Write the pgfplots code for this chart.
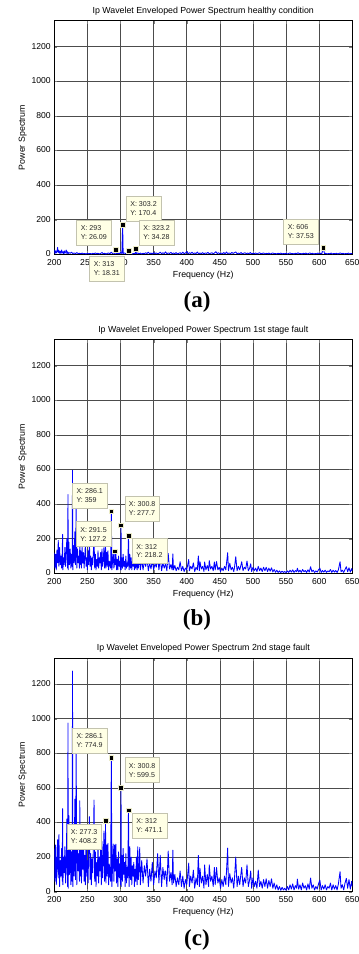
\documentclass[border=0pt]{standalone}
\usepackage{pgfplots}
\pgfplotsset{compat=1.18}
\usepackage{fontspec}
\setmainfont{Liberation Sans}
\newfontfamily\capfont{Liberation Serif}
\definecolor{tipfill}{RGB}{255,255,229}
\definecolor{tipdraw}{RGB}{195,195,175}
\definecolor{mkedge}{RGB}{235,235,200}
\pgfplotsset{every axis title shift=0pt,
  panel/.style={
  scale only axis, width=298pt, height=233.6pt, anchor=south west,
  xmin=200, xmax=650, ymin=0, ymax=1350,
  xtick={200,250,...,650}, ytick={0,200,...,1200},
  grid=major, major grid style={black!70, line width=0.6pt},
  tick align=inside, major tick length=3pt,
  axis line style={black, line width=0.6pt},
  tick label style={font=\fontsize{8.6}{10}\selectfont},
  xticklabel style={yshift=-1.2pt},
  yticklabel style={yshift=0.6pt},
  /pgf/number format/assume math mode=true,
  /pgf/number format/1000 sep={},
  xlabel={Frequency (Hz)}, ylabel={Power Spectrum},
  label style={font=\fontsize{8.8}{10}\selectfont},
  xlabel style={at={(axis description cs:0.5,-0.0885)},anchor=center},
  ylabel style={at={(axis description cs:-0.106,0.5)},anchor=center},
  title style={at={(axis description cs:0.5,1.0415)},anchor=center,font=\fontsize{8.8}{10}\selectfont},
  },
  spec/.style={blue, line width=0.85pt, mark=none, line join=round},
  tipmk/.style={only marks, mark=square*, mark size=2.4pt, mark options={fill=black, draw=mkedge, line width=0.5pt}}
}
\tikzset{tip/.style={draw=tipdraw, fill=tipfill, line width=0.5pt, font=\fontsize{7.1}{8.7}\selectfont, align=left, minimum width=34.7pt, minimum height=25pt, inner sep=1pt, text=black!85}}
\begin{document}
\begin{tikzpicture}
\useasboundingbox (0,0) rectangle (359pt,954pt);
% ---------------- (a) ----------------
\begin{axis}[panel, at={(54.3pt,699.7pt)}, title={Ip Wavelet Enveloped Power Spectrum healthy condition}]
\addplot[spec] coordinates {
(200,25)(201,5)(202,20)(203,8)(204,15)(205,40)(206,10)(207,22)(208,6)(209,18)(210,5)(211,25)(212,8)(213,14)(214,4)(215,20)(216,6)(217,12)(218,25)(219,5)(220,15)(221,4)(222,10)(224,6)(226,12)(228,4)(230,8)(232,3)(234,10)(236,4)(238,6)(240,3)(242,7)(244,3)(246,5)(248,2)(250,6)(252,3)(254,5)(256,2)(258,6)(260,3)(262,8)(264,3)(266,6)(268,2)(270,5)(272,10)(274,3)(276,6)(278,2)(280,5)(282,8)(284,3)(286,12)(288,4)(290,8)(292,3)(293,26.09)(294,4)(296,6)(298,3)(300,10)(302,5)(303.2,170.4)(304,5)(306,8)(308,3)(310,6)(312,2)(313,18.31)(314,3)(316,6)(318,2)(320,5)(322,4)(323.2,34.28)(324,3)(326,8)(328,3)(330,7)(332,2)
(334,6)(336,3)(338,9)(340,4)(342,12)(344,3)(346,7)(348,2)(350,10)(352,4)(354,8)(356,3)(358,6)(360,12)(362,3)(364,9)(366,4)(368,14)(370,3)(372,8)(374,5)(376,11)(378,3)(380,7)(382,4)(384,10)(386,2)(388,6)(390,9)(392,3)(394,12)(396,4)(398,7)(400,16)(402,3)(404,9)(406,5)(408,12)(410,3)(412,8)(414,4)(416,13)(418,3)(420,7)(422,4)(424,10)(426,2)(428,8)(430,5)(432,11)(434,3)(436,6)(438,9)(440,3)(442,8)(444,15)(446,4)(448,9)(450,3)(452,7)(454,4)(456,10)(458,3)(460,13)(462,4)(464,8)(466,3)(468,11)(470,5)(472,9)(474,14)(476,3)(478,7)(480,4)(482,10)(484,3)(486,6)(488,9)(490,3)(492,7)(494,4)(496,10)(498,3)(500,6)(502,4)(504,8)(506,2)(508,6)(510,9)(512,3)(514,5)(516,8)(518,2)(520,6)(522,3)(524,7)(526,2)(528,5)(530,8)(532,3)(534,5)(536,2)(538,6)(540,3)(542,7)(544,2)(546,5)(548,3)(550,6)(552,2)(554,5)(556,8)(558,3)(560,5)(562,2)(564,6)(566,3)(568,9)(570,3)(572,5)(574,2)(576,6)(578,3)(580,7)(582,2)(584,5)(586,8)(588,3)(590,6)(592,2)(594,5)(596,3)(598,7)(600,4)(602,6)(604,3)(606,37.53)(608,4)(610,6)(612,2)(614,5)(616,3)(618,7)(620,2)(622,5)(624,3)(626,6)(628,2)(630,5)(632,8)(634,3)(636,6)(638,2)(640,5)(642,3)(644,7)(646,2)(648,5)(650,3)};
\addplot[tipmk] coordinates {(293,26.09)(303.2,170.4)(313,18.31)(323.2,34.28)(606,37.53)};
\coordinate (A1) at (axis cs:334.7,266);
\coordinate (A2) at (axis cs:259.7,124);
\coordinate (A3) at (axis cs:354.6,126);
\coordinate (A4) at (axis cs:279.3,-84);
\coordinate (A5) at (axis cs:572.3,133);
\end{axis}
\node[tip] at (A1) {X: 303.2\\Y: 170.4};
\node[tip] at (A2) {X: 293\\Y: 26.09};
\node[tip] at (A3) {X: 323.2\\Y: 34.28};
\node[tip] at (A4) {X: 313\\Y: 18.31};
\node[tip] at (A5) {X: 606\\Y: 37.53};
\node[font=\capfont\bfseries\fontsize{23}{26}\selectfont, inner sep=0pt] at (197pt,652.3pt) {(a)};
% ---------------- (b) ----------------
\begin{axis}[panel, at={(54.3pt,380.7pt)}, title={Ip Wavelet Enveloped Power Spectrum 1st stage fault}]
\addplot[spec] coordinates {
(200,120)(201,30)(202,110)(203,20)(204,135)(205,60)(206,190)(207,40)(208,150)(209,50)(210,100)(211,30)(212,120)(212.5,225)(213,20)(214,90)(215,50)(216,150)(217,40)(218,130)(219,200)(220,30)(220.7,455)(221,20)(222,180)(223,50)(224,140)(225,30)(226,110)(227,40)(227.5,595)(228,20)(229,160)(230,60)(231,240)(232,50)(233,375)(234,30)(235,140)(236,60)(237,100)(238,30)(238.5,195)(239,50)(240,130)(241,30)(242,150)(243,60)(244,120)(245,30)(246,100)(247,170)(248,40)(249,90)(250,20)(251,130)(252,50)(253,180)(254,40)(255,100)(256,20)(257,90)(258,50)(259,120)(260,200)(261,30)(262,110)(263,20)(264,80)(265,40)(266,130)(267,30)(268,90)(269,60)(270,120)(271,20)(272,140)(273,40)(274,80)(275,150)(276,30)(277,90)(277.3,170)(278,30)(279,120)(280,40)(281,130)(282,20)(283,70)(284,50)(285,30)(286.1,359)(287,20)(288,70)(289,120)(290,30)(291,60)(291.5,127.2)(292,50)(293,120)(294,20)(295,80)(296,20)(297,100)(298,40)(299,70)(300,20)(300.8,277.7)(301,20)(302,90)(303,30)(304,110)(305,40)(306,70)(307,20)(308,100)(309,30)(310,60)(311,40)(312,218.2)(313,20)(314,110)(315,30)(316,90)(317,20)(318,70)(319,40)(320,80)(321,20)(322,60)(323,30)(324,90)(325,20)(326,110)(327,30)(328,60)(329,110)(330,20)
(332,80)(334,20)(336,70)(338,40)(340,85)(342,15)(344,60)(346,25)(348,75)(350,20)(352,55)(354,35)(356,95)(358,20)(360,90)(362,15)(364,60)(366,30)(368,55)(370,15)(372,115)(374,25)(376,50)(378,20)(379,112)(380,20)(382,45)(384,15)(386,35)(388,20)(390,67)(392,15)(394,40)(396,10)(398,30)(400,20)(403,80)(404,15)(406,40)(408,25)(410,60)(412,10)(414,35)(416,20)(417.5,100)(419,15)(420,67)(422,25)(424,40)(426,10)(427,65)(429,20)(431,45)(433,15)(434,73)(436,25)(438,40)(440,15)(441.7,65)(443,20)(445,68)(447,20)(449,35)(451,10)(453,30)(455,15)(457,40)(459,20)(461.8,119)(463,15)(465,58)(467,20)(469,35)(471,10)(472,30)(474,96)(476,15)(478,40)(480,20)(482,50)(483,67)(485,15)(487,35)(489,25)(491,71)(493,15)(495,30)(496.6,55)(498,10)(500,35)(502,15)(504,30)(506,10)(508,40)(510,15)(512,30)(514,10)(516,35)(518,15)(520,35)(522,10)(524,30)(526,12)(528,32)(530,8)(532,22)(534,6)(536,18)(538,5)(540,14)(542,4)(544,12)(546,5)(548,10)(550,4)(552,14)(554,5)(556,18)(558,7)(560,20)(562,5)(564,16)(566,9)(567,29)(569,7)(571,18)(573,5)(575,22)(577,9)(579,16)(581,5)(583,20)(585,7)(587,38)(589,9)(591,18)(593,5)(595,14)(597,7)(599,20)(601,30)(603,5)(605,16)(607,7)(609,18)(611,5)(613,14)(615,9)(617,22)(619,5)(621,18)(623,7)(625,16)(627,5)(629,20)(631.5,67)(633,9)(635,18)(637,5)(639,22)(641,38)(643,9)(645,32)(647,7)(649,27)(650,14)};
\addplot[tipmk] coordinates {(286.1,359)(291.5,127.2)(300.8,277.7)(312,218.2)};
\coordinate (B1) at (axis cs:253.5,449);
\coordinate (B2) at (axis cs:332.7,373);
\coordinate (B3) at (axis cs:259.2,226);
\coordinate (B4) at (axis cs:343.8,128);
\end{axis}
\node[tip] at (B1) {X: 286.1\\Y: 359};
\node[tip] at (B2) {X: 300.8\\Y: 277.7};
\node[tip] at (B3) {X: 291.5\\Y: 127.2};
\node[tip] at (B4) {X: 312\\Y: 218.2};
\node[font=\capfont\bfseries\fontsize{23}{26}\selectfont, inner sep=0pt] at (197pt,333.9pt) {(b)};
% ---------------- (c) ----------------
\begin{axis}[panel, at={(54.3pt,62.3pt)}, title={Ip Wavelet Enveloped Power Spectrum 2nd stage fault}]
\addplot[spec] coordinates {
(200,250)(201,60)(202,270)(203,40)(204,150)(205,300)(206,80)(207,330)(208,30)(209,180)(210,90)(211,250)(212,60)(212.5,480)(213,40)(214,200)(215,110)(216,260)(217,50)(218,160)(219,420)(220,30)(220.7,975)(221,20)(222,440)(223,100)(224,290)(225,40)(226,230)(227,60)(227.5,1275)(228,30)(229,350)(230,90)(231,535)(232,70)(233,810)(234,40)(235,300)(236,120)(237,220)(238,60)(238.5,525)(239,90)(240,280)(241,50)(242,240)(243,130)(244,300)(245,60)(246,210)(247,40)(248,350)(249,90)(250,180)(251,50)(252,270)(253,434)(254,70)(255,220)(256,40)(257,190)(258,110)(259,260)(260,530)(261,60)(262,230)(263,30)(264,170)(265,90)(266,280)(267,50)(268,200)(269,120)(270,250)(271,40)(272,290)(273,80)(274,180)(275,350)(276,60)(277,200)(277.3,408.2)(278,50)(279,270)(280,90)(281,280)(282,40)(283,160)(284,100)(285,60)(286.1,774.9)(287,30)(288,150)(289,275)(290,60)(291,270)(292,120)(293,275)(294,50)(295,190)(296,30)(297,230)(298,80)(299,160)(300,40)(300.8,599.5)(301,30)(302,210)(303,60)(304,250)(305,100)(306,170)(307,30)(308,220)(309,50)(310,140)(311,80)(312,471.1)(313,30)(314,260)(315,70)(316,200)(317,40)(318,150)(319,90)(320,170)(321,30)(322,130)(323,60)(324,200)(325,40)(326,260)(327,70)(328,140)(329,255)(330,40)
(332,180)(334,50)(336,150)(338,90)(340,190)(342,30)(344,130)(346,60)(348,170)(350,40)(352,120)(354,80)(356,220)(358,50)(360,210)(362,30)(364,140)(366,70)(367,116)(368,120)(370,30)(372,235)(374,60)(376,110)(378,40)(379,240)(380,50)(382,100)(384,30)(386,80)(388,40)(390,120)(392,30)(394,90)(396,20)(398,70)(400,40)(403,165)(404,30)(406,90)(408,50)(410,125)(412,20)(414,80)(416,40)(417.5,210)(419,30)(420,135)(422,50)(424,90)(426,20)(427,155)(429,40)(431,100)(433,30)(434,155)(436,60)(438,90)(440,30)(441.7,140)(443,40)(445,140)(447,50)(449,80)(451,20)(453,70)(455,30)(457,90)(459,40)(461.8,252)(463,30)(465,105)(467,50)(469,80)(471,20)(472,70)(474,200)(476,30)(478,90)(480,40)(482,110)(483,140)(485,30)(487,80)(489,50)(491,155)(493,30)(495,70)(496.6,120)(498,20)(500,80)(502,30)(504,60)(506,20)(508,125)(510,30)(512,60)(514,20)(516,70)(518,30)(520,75)(522,20)(524,65)(526,30)(528,75)(530,20)(532,50)(534,15)(536,40)(538,10)(540,30)(542,8)(544,25)(546,10)(548,20)(550,8)(552,30)(554,10)(556,40)(558,15)(560,45)(562,10)(564,35)(566,20)(567,73)(569,15)(571,40)(573,10)(575,50)(577,20)(579,35)(581,10)(583,45)(585,15)(587,79)(589,20)(591,40)(593,10)(595,30)(597,15)(599,45)(601,67)(603,10)(605,35)(607,15)(609,40)(611,10)(613,30)(615,20)(617,50)(619,10)(621,40)(623,15)(625,35)(627,10)(629,45)(631.5,116)(633,20)(635,40)(637,10)(639,50)(641,77)(643,20)(645,70)(647,15)(649,60)(650,30)};
\addplot[tipmk] coordinates {(277.3,408.2)(286.1,774.9)(300.8,599.5)(312,471.1)};
\coordinate (C1) at (axis cs:253.5,872);
\coordinate (C2) at (axis cs:332.7,702);
\coordinate (C3) at (axis cs:343.8,383);
\coordinate (C4) at (axis cs:245.1,318);
\end{axis}
\node[tip] at (C1) {X: 286.1\\Y: 774.9};
\node[tip] at (C2) {X: 300.8\\Y: 599.5};
\node[tip] at (C3) {X: 312\\Y: 471.1};
\node[tip] at (C4) {X: 277.3\\Y: 408.2};
\node[font=\capfont\bfseries\fontsize{23}{26}\selectfont, inner sep=0pt] at (197pt,14pt) {(c)};
\end{tikzpicture}
\end{document}
